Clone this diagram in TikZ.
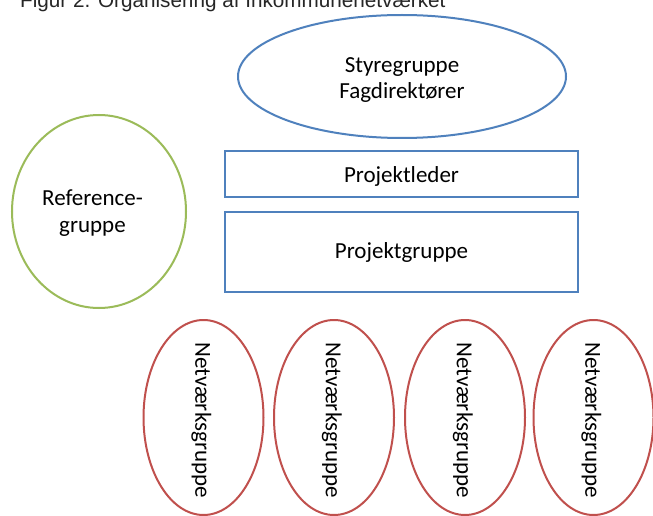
\documentclass[tikz,border=0pt]{standalone}
\usepackage{fontspec}
\setmainfont{Carlito}
\newfontfamily\titlefont{Liberation Sans}
\usetikzlibrary{shapes.geometric}
\definecolor{bluec}{HTML}{4F81BD}
\definecolor{greenc}{HTML}{9BBB59}
\definecolor{redc}{HTML}{C0504D}
\begin{document}
\begin{tikzpicture}[x=1pt,y=-1pt,
  shapetext/.style={font=\fontsize{23}{26.5}\selectfont, text=black, align=center, inner sep=0pt},
  vtext/.style={shapetext, rotate=-90},
  blueoval/.style={ellipse, draw=bluec, line width=2pt, fill=white, inner sep=0pt},
  bluebox/.style={rectangle, draw=bluec, line width=2pt, fill=white, inner sep=0pt},
  greenoval/.style={ellipse, draw=greenc, line width=2pt, fill=white, inner sep=0pt},
  redoval/.style={ellipse, draw=redc, line width=2pt, fill=white, inner sep=0pt,
    minimum width=120pt, minimum height=195pt},
]
\fill[white] (0,0) rectangle (653,516);
\useasboundingbox (0,0) rectangle (653,516);

% title (clipped at top as in the reference)
\node[anchor=base west, inner sep=0pt, font=\titlefont\fontsize{20.7}{24}\selectfont, text=black!85] (title) at (20,8) {Figur 2. Organisering af Inkommunenetværket};

% Styregruppe
\node[blueoval, minimum width=328pt, minimum height=123pt] (styre) at (402,76.5) {};
\node[shapetext] (styretxt) at (402,80) {Styregruppe\\Fagdirektører};

% Projektleder
\node[bluebox, minimum width=353pt, minimum height=46pt] (leder) at (401.5,174) {};
\node[shapetext] (ledertxt) at (401.5,176.5) {Projektleder};

% Projektgruppe
\node[bluebox, minimum width=353pt, minimum height=80pt] (gruppe) at (401.5,252) {};
\node[shapetext] (gruppetxt) at (401.5,252.5) {Projektgruppe};

% Referencegruppe
\node[greenoval, minimum width=174pt, minimum height=193pt] (ref) at (99,211.5) {};
\node[shapetext] (reftxt) at (92.5,213) {Reference-\\gruppe};

% Netvaerksgrupper
\node[redoval] (net1) at (203.5,417.5) {};
\node[redoval] (net2) at (334,417.5) {};
\node[redoval] (net3) at (465,417.5) {};
\node[redoval] (net4) at (593.5,417.5) {};
\node[vtext] (net1txt) at (201.5,420) {Netværksgruppe};
\node[vtext] (net2txt) at (332,420) {Netværksgruppe};
\node[vtext] (net3txt) at (463,420) {Netværksgruppe};
\node[vtext] (net4txt) at (591.5,420) {Netværksgruppe};
\end{tikzpicture}
\end{document}
